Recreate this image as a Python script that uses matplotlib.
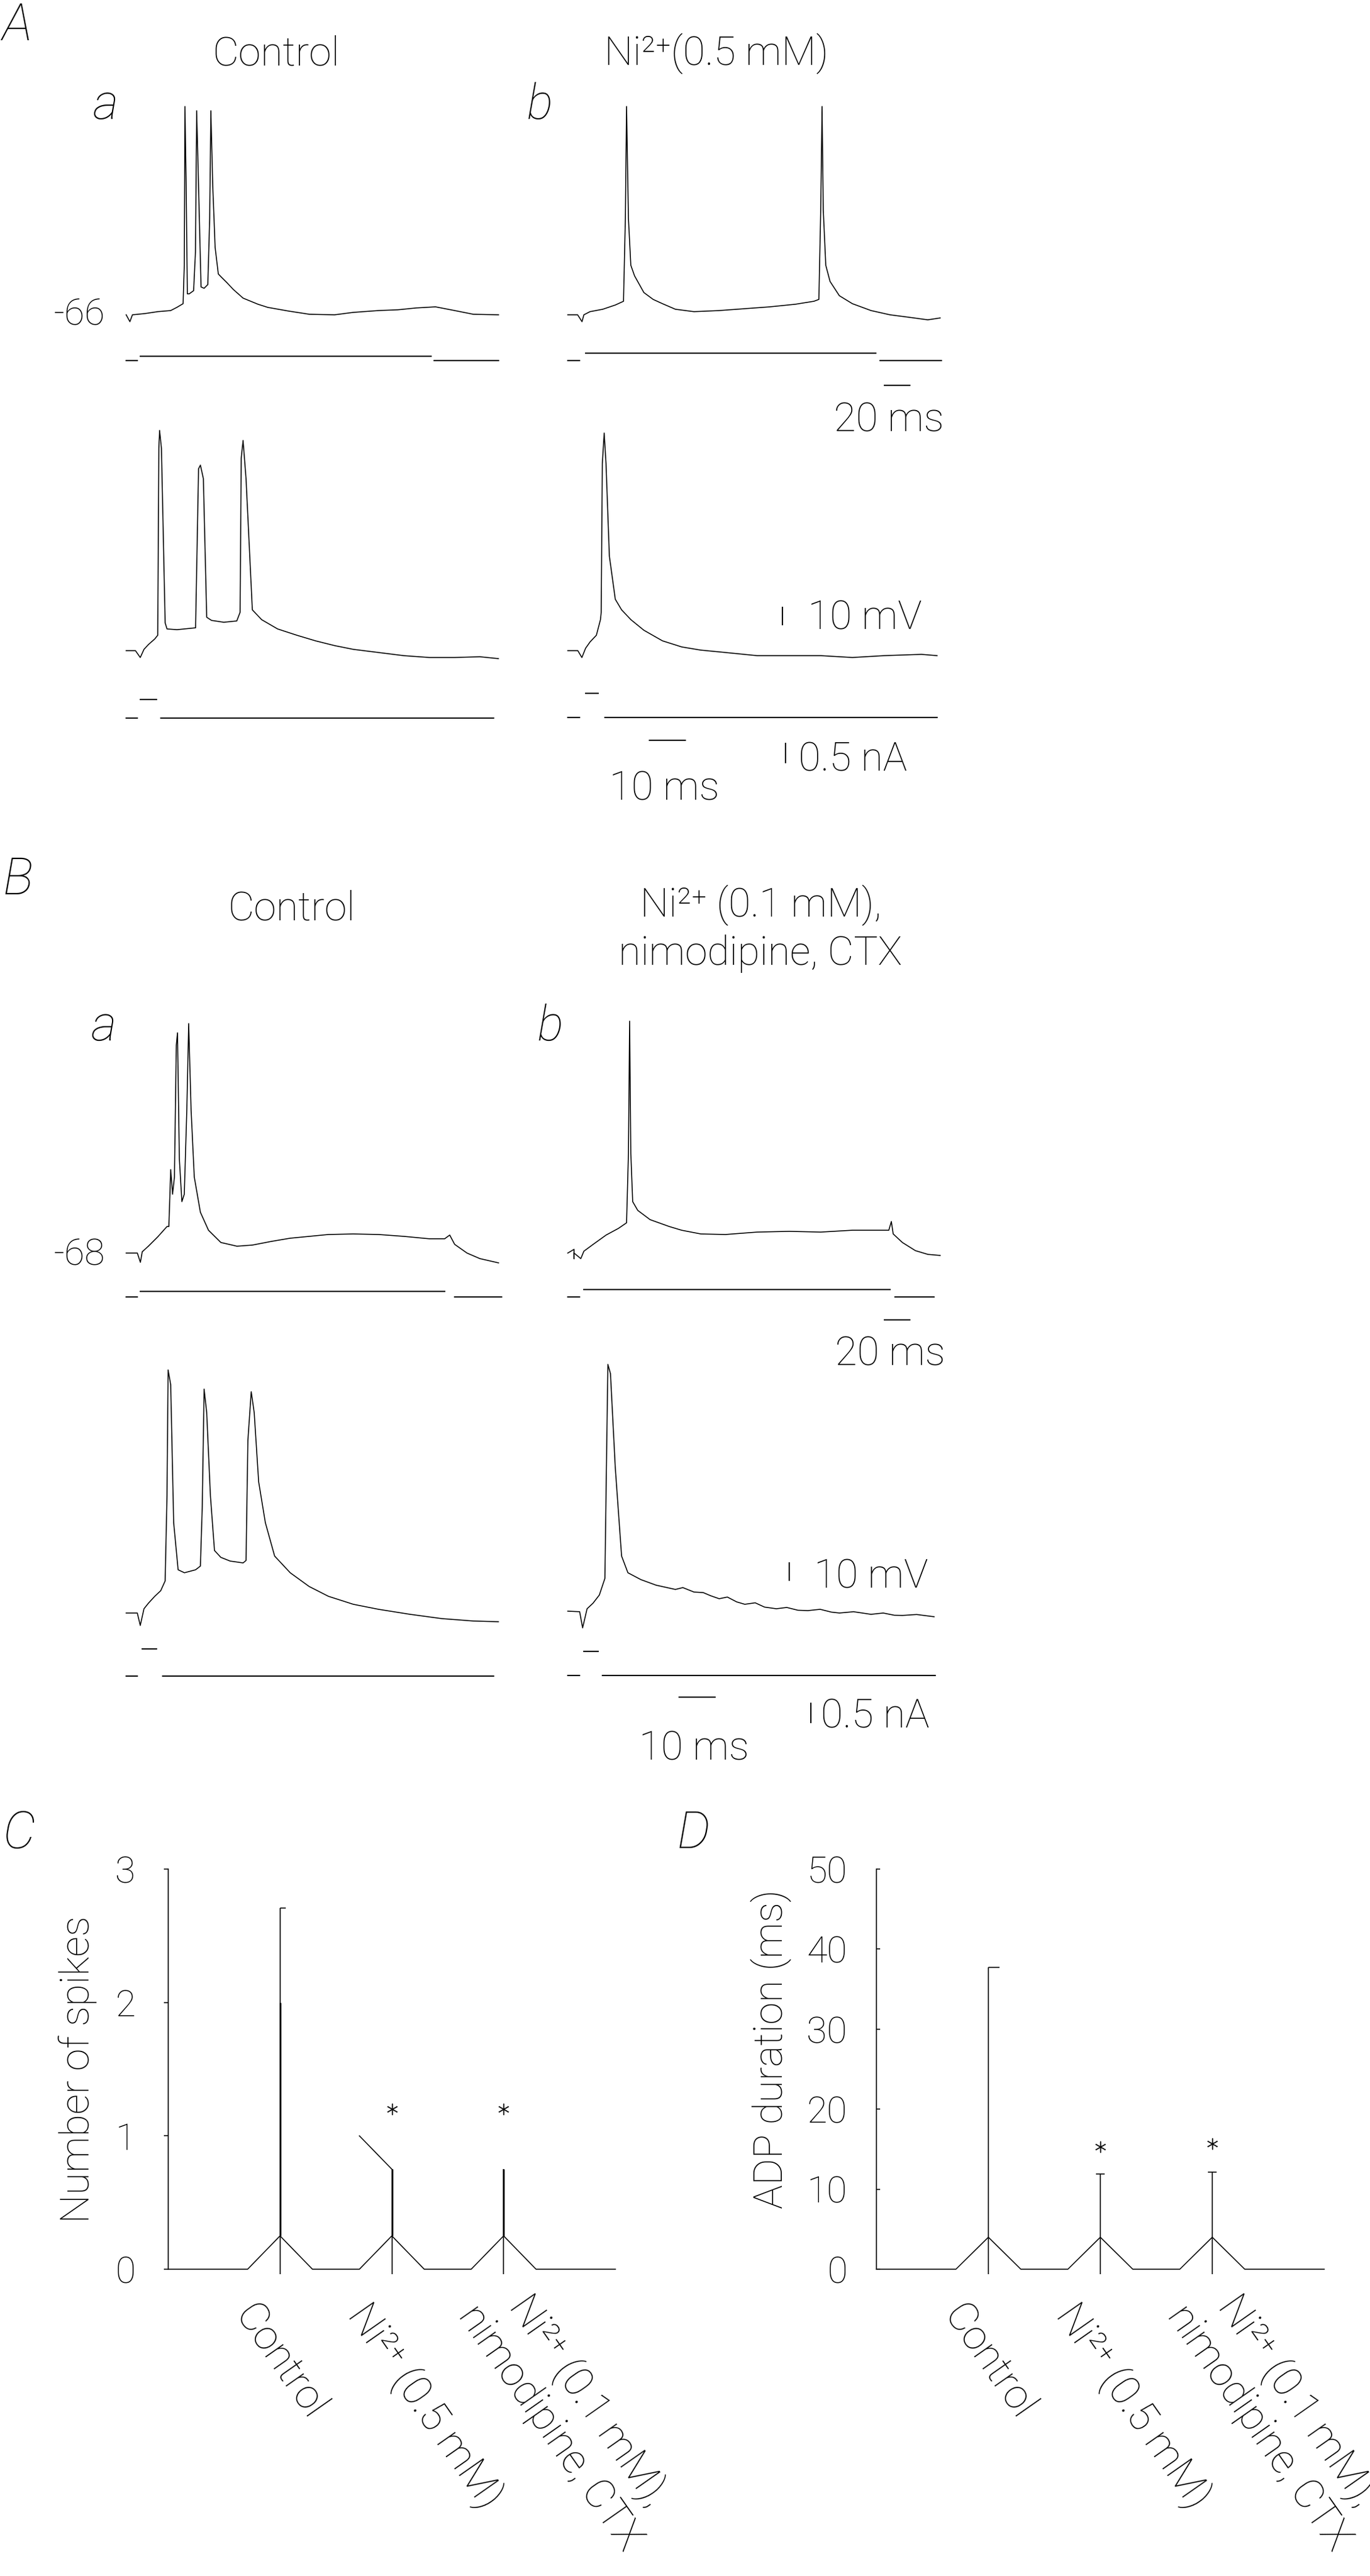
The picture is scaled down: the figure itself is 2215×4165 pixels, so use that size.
import numpy as np
import matplotlib
matplotlib.use("Agg")
import matplotlib.pyplot as plt
from matplotlib import transforms as mtransforms

nan = np.nan

# ---------------- A: Control / Ni2+ 0.5 mM, long step (time ms, potential mV) ----------------
aa_t = [0, 2.8, 4.7, 14.4, 23.7, 33.5, 38.1, 42.8, 43.7, 44.2, 45.1, 46.0, 47.4, 50.7, 52.1, 53.0,
        54.4, 56.3, 58.6, 61.4, 62.8, 63.7, 65.1, 66.9, 69.3, 71.6, 75.8, 80.5, 87.9, 99.1, 106.5,
        122.3, 137.7, 156.7, 170.7, 189.8, 204.2, 218.1, 232.6, 247.0, 261.0, 280.0]
aa_v = [-66, -69.7, -66, -65.3, -64.3, -63.7, -62.0, -60.0, -39.3, 46.3, 3.7, -54.7, -54.7, -53.0, -32.0, 44.0,
        3.7, -51.0, -51.7, -49.7, -14.0, 44.0, 3.7, -29.7, -44.0, -45.7, -48.7, -52.3, -57.0, -60.3, -62.0,
        -64.0, -65.7, -66.0, -64.7, -63.7, -63.3, -62.3, -61.7, -63.7, -65.7, -66.0]
ab_t = [0, 7.4, 10.7, 12.1, 16.7, 26.3, 35.8, 41.9, 43.3, 44.2, 45.6, 47.4, 50.2, 57.2, 64.2, 71.2,
        80.9, 94.9, 114.0, 133.0, 152.0, 171.2, 185.1, 188.8, 190.2, 191.2, 192.1, 194.0, 197.2, 204.2,
        214.0, 228.0, 242.3, 256.3, 270.7, 280.0]
ab_v = [-66, -66, -69.7, -66, -64.3, -63.0, -60.7, -58.7, -14.0, 46.3, -14.0, -39.3, -45.0, -54.0, -57.7, -60.0,
        -63.0, -64.3, -63.7, -62.7, -61.7, -60.3, -58.7, -57.7, -9.3, 46.3, -9.3, -39.3, -48.0, -55.7,
        -60.0, -63.7, -66.0, -67.3, -68.7, -67.7]
# short pulse
aa2_t = [0, 2.5, 3.8, 4.8, 6.0, 7.7, 8.5, 8.8, 9.0, 9.5, 10.5, 11.0, 13.7, 18.7, 19.5, 20.0, 20.8, 21.7,
         23.0, 26.3, 29.8, 30.7, 31.0, 31.5, 32.3, 34.0, 36.5, 40.8, 46.0, 51.0, 56.2, 61.2, 68.0, 74.8,
         81.7, 88.5, 95.3, 100.3]
aa2_v = [-66, -66, -69.7, -65.3, -62.7, -59.7, -57.7, 43.0, 52.7, 43.0, -51.0, -54.3, -54.7, -53.7, 32.0, 34.0,
         26.7, -48.0, -49.7, -50.7, -50.0, -45.3, 37.7, 47.3, 26.7, -44.0, -49.3, -54.3, -57.7, -60.7, -63.3,
         -65.3, -67.0, -68.7, -69.7, -69.7, -69.3, -70.3]
ab2_t = [0, 2.7, 3.8, 4.8, 6.0, 7.7, 8.8, 9.0, 9.3, 9.8, 10.3, 11.2, 12.8, 14.5, 17.0, 20.5, 25.5, 30.7,
         35.8, 42.5, 51.0, 59.7, 68.2, 76.7, 85.2, 95.3, 99.5]
ab2_v = [-66, -66, -69.7, -64.7, -61.3, -57.7, -49.3, -45.3, 34.7, 51.3, 34.7, -15.0, -38.3, -44.0, -49.3, -55.0,
         -60.7, -64.0, -65.7, -67.0, -68.7, -68.7, -68.7, -69.7, -68.7, -68.0, -68.7]

# ---------------- B: Control / Ni2+ 0.1 mM + nimodipine + CTX ----------------
ba_t = [0, 8.4, 10.7, 12.1, 16.7, 23.7, 30.7, 32.1, 33.5, 34.9, 36.3, 37.7, 38.6, 40.0, 41.9, 43.7,
        45.6, 47.0, 48.8, 51.2, 55.8, 61.9, 71.2, 83.3, 94.9, 109.3, 123.3, 137.7, 152.1, 170.7, 189.8,
        208.8, 227.9, 239.5, 243.3, 247.0, 256.3, 266.0, 280.0]
ba_v = [-68, -68, -73.0, -67.3, -64.3, -59.3, -53.7, -53.7, -23.0, -36.3, -27.0, 44.0, 50.7, -17.3, -40.3, -36.3,
        9.3, 55.7, 9.3, -27.0, -46.0, -55.7, -62.3, -64.3, -63.7, -61.7, -60.0, -59.0, -58.0, -57.7, -58.0,
        -59.0, -60.3, -60.3, -58.3, -63.3, -68.0, -71.0, -73.3]
bb_t = [0, 4.7, 4.7, 4.7, 9.8, 12.1, 19.1, 28.8, 38.1, 44.2, 45.6, 46.5, 47.4, 48.8, 52.6, 61.9,
        76.3, 85.6, 100.0, 118.6, 142.3, 166.5, 190.2, 214.0, 241.4, 243.3, 244.7, 251.6, 261.4, 270.7, 280.0]
bb_v = [-68, -66, -71, -68, -71, -67, -63.3, -58.3, -54.7, -51.7, -14.3, 57.0, -14.3, -40.3, -45.0, -50.0,
        -53.7, -55.7, -57.7, -58.0, -56.7, -56.3, -56.7, -55.7, -55.7, -51.0, -57.7, -62.3, -66.7, -68.7, -69.3]
ba2_t = [0, 3.0, 3.8, 4.8, 6.0, 7.7, 9.3, 10.5, 11.0, 11.3, 12.0, 12.8, 14.0, 15.7, 18.7, 20.0, 20.5, 21.0,
         21.7, 22.7, 23.8, 25.5, 28.0, 31.5, 32.3, 32.8, 33.7, 34.5, 35.7, 37.5, 40.0, 44.2, 49.3, 54.5,
         61.2, 68.0, 76.5, 85.0, 93.5, 100.3]
ba2_v = [-68, -68, -74.7, -65.7, -62.7, -59.0, -56.0, -50.7, -4.7, 63.0, 55.0, -19.3, -44.7, -46.3, -44.7, -42.7,
         -10.7, 52.7, 40.0, -4.7, -34.3, -38.0, -40.0, -41.0, -39.7, 25.0, 51.3, 40.0, 2.7, -19.3, -37.3, -46.3,
         -53.7, -59.0, -63.3, -66.0, -68.7, -71.0, -72.3, -72.7]
bb2_t = [0, 3.2, 4.0, 5.2, 6.8, 8.5, 10.0, 10.3, 10.8, 11.5, 12.8, 14.5, 16.2, 19.7, 23.8, 29.0, 31.0, 34.0,
         36.5, 38.5, 40.8, 43.0, 45.5, 47.7, 50.5, 53.0, 56.2, 59.0, 62.0, 64.7, 68.0, 71.0, 73.2, 77.0,
         81.7, 85.0, 88.0, 90.2, 94.0, 98.7]
bb2_v = [-68, -68.3, -77, -66.7, -63.7, -59.3, -50.3, -5.7, 65, 60, 9.3, -38.3, -47.3, -51, -54, -56.3,
         -55.3, -57.7, -58.0, -59.7, -61.3, -60.4, -63.0, -64.3, -63.5, -65.8, -66.7, -66.0, -67.5, -67.7,
         -67.0, -68.5, -69.0, -68.3, -69.7, -69.0, -70.2, -70.3, -69.8, -71.0]

# injected current (time ms, current nA); NaN separates drawn pieces
aa_it = [0, 8.4, nan, 10.7, 229.3, nan, 231.6, 280.0];  aa_iv = [0, 0, nan, 0.10, 0.10, nan, 0, 0]
ab_it = [0, 8.8, nan, 13.5, 231.6, nan, 234.9, 280.9];  ab_iv = [0, 0, nan, 0.18, 0.18, nan, 0, 0]
aa2_it = [0, 3.0, nan, 3.8, 8.2, nan, 9.3, 99.0];       aa2_iv = [0, 0, nan, 0.45, 0.45, nan, 0, 0]
ab2_it = [0, 3.2, nan, 4.8, 8.2, nan, 10.0, 99.5];      ab2_iv = [0, 0, nan, 0.59, 0.59, nan, 0, 0]
ba_it = [0, 8.4, nan, 10.7, 239.5, nan, 247.0, 282.3];  ba_iv = [0, 0, nan, 0.14, 0.14, nan, 0, 0]
bb_it = [0, 8.8, nan, 12.1, 242.3, nan, 246.0, 275.3];  bb_iv = [0, 0, nan, 0.18, 0.18, nan, 0, 0]
ba2_it = [0, 3.0, nan, 4.3, 8.2, nan, 9.8, 99.0];       ba2_iv = [0, 0, nan, 0.67, 0.67, nan, 0, 0]
bb2_it = [0, 3.2, nan, 4.3, 8.2, nan, 9.3, 99.0];       bb2_iv = [0, 0, nan, 0.59, 0.59, nan, 0, 0]

# ---------------- C / D summary ----------------
categories = ["Control", "Ni\u00b2\u207a (0.5 mM)", "Ni\u00b2\u207a (0.1 mM),\nnimodipine, CTX"]
cat_pos = [1, 2, 3]
spikes_apex = [0.25, 0.25, 0.25]
spikes_mean = [2.0, 0.75, 0.75]
spikes_err = [2.71, 0.75, 0.75]
spikes_slant = [nan, 1.0, nan]
spikes_star = [nan, 1.2, 1.2]
adp_apex = [4.0, 4.0, 4.0]
adp_err = [37.7, 11.9, 12.1]
adp_star = [nan, 15.3, 15.7]

# ---------------- figure ----------------
W, H, DPI = 2215, 4165, 100
plt.rcParams['font.family'] = ['Roboto', 'DejaVu Sans']
FW = 100
LW = 1.15
K = 'black'

fig = plt.figure(figsize=(W / DPI, H / DPI), dpi=DPI)
fig.patch.set_facecolor('white')


def px_axes(left, top, right, bottom):
    return fig.add_axes([left / W, 1 - bottom / H, (right - left) / W, (bottom - top) / H])


def trace_axes(x0, yrest, vrest, sx, tmax, sy=3.0, vmin=-130, vmax=70):
    ax = px_axes(x0, yrest - (vmax - vrest) * sy, x0 + tmax * sx, yrest + (vrest - vmin) * sy)
    ax.set_xlim(0, tmax)
    ax.set_ylim(vmin, vmax)
    ax.axis('off')
    return ax


def current_axes(x0, ybase, sx, tmax, si=66.0, imin=-1.5, imax=1.0):
    ax = px_axes(x0, ybase - imax * si, x0 + tmax * sx, ybase - imin * si)
    ax.set_xlim(0, tmax)
    ax.set_ylim(imin, imax)
    ax.axis('off')
    return ax


def ftext(X, Y, s, ha='left', va='baseline', size=47, style='normal'):
    fig.text(X / W, 1 - Y / H, s, ha=ha, va=va, fontsize=size, fontstyle=style,
             fontweight=FW, color=K)


panels = [
    # t, v, it, iv, x0, yrest, vrest, sx, tmax, ibase
    (aa_t, aa_v, aa_it, aa_iv, 204, 509, -66, 2.15, 285, 583),
    (ab_t, ab_v, ab_it, ab_iv, 918, 509, -66, 2.15, 285, 583),
    (aa2_t, aa2_v, aa2_it, aa2_iv, 204, 1052, -66, 6.0, 102, 1161),
    (ab2_t, ab2_v, ab2_it, ab2_iv, 918, 1052, -66, 6.0, 102, 1160),
    (ba_t, ba_v, ba_it, ba_iv, 204, 2026, -68, 2.15, 285, 2097),
    (bb_t, bb_v, bb_it, bb_iv, 918, 2026, -68, 2.15, 285, 2097),
    (ba2_t, ba2_v, ba2_it, ba2_iv, 204, 2608, -68, 6.0, 102, 2710),
    (bb2_t, bb2_v, bb2_it, bb2_iv, 918, 2605, -68, 6.0, 102, 2709),
]
vax, iax = [], []
for t, v, it, iv, x0, yr, vr, sx, tmax, ib in panels:
    a = trace_axes(x0, yr, vr, sx, tmax)
    a.plot(t, v, color=K, lw=LW, clip_on=False)
    b = current_axes(x0, ib, sx, tmax)
    b.plot(it, iv, color=K, lw=LW * 1.3, clip_on=False)
    vax.append(a)
    iax.append(b)

bar_kw = dict(color=K, lw=LW * 1.3, clip_on=False, solid_capstyle='butt')
# scale bars
vax[1].plot([237.7, 257.7], [-104, -104], **bar_kw)      # 20 ms (A)
vax[5].plot([237.7, 257.7], [-104, -104], **bar_kw)      # 20 ms (B)
vax[3].plot([57.8, 57.8], [-52.3, -42.3], **bar_kw)      # 10 mV (A)
vax[3].plot([21.8, 31.8], [-114.3, -114.3], **bar_kw)    # 10 ms (A)
iax[3].plot([58.7, 58.7], [-1.12, -0.62], **bar_kw)      # 0.5 nA (A)
vax[7].plot([59.7, 59.7], [-51.7, -41.7], **bar_kw)      # 10 mV (B)
vax[7].plot([29.8, 39.8], [-114.3, -114.3], **bar_kw)    # 10 ms (B)
iax[7].plot([65.5, 65.5], [-1.17, -0.67], **bar_kw)      # 0.5 nA (B)

# texts for A and B
ftext(4, 65, "A", size=60, style='italic')
ftext(446, 105, "Control", ha='center')
ftext(1158, 105, "Ni\u00b2\u207a(0.5 mM)", ha='center')
ftext(151, 192, "a", size=57, style='italic')
ftext(852, 192, "b", size=57, style='italic')
ftext(170, 525, "-66", ha='right', size=43)
ftext(1437, 697, "20 ms", ha='center')
ftext(1306, 1017, "10 mV")
ftext(1074, 1293, "10 ms", ha='center')
ftext(1291, 1247, "0.5 nA")

ftext(4, 1446, "B", size=60, style='italic')
ftext(471, 1487, "Control", ha='center')
ftext(1230, 1482, "Ni\u00b2\u207a (0.1 mM),", ha='center')
ftext(1229, 1560, "nimodipine, CTX", ha='center')
ftext(148, 1682, "a", size=57, style='italic')
ftext(869, 1682, "b", size=57, style='italic')
ftext(170, 2046, "-68", ha='right', size=43)
ftext(1439, 2208, "20 ms", ha='center')
ftext(1316, 2567, "10 mV")
ftext(1122, 2845, "10 ms", ha='center')
ftext(1327, 2793, "0.5 nA")

ftext(4, 2988, "C", size=60, style='italic')
ftext(1094, 2988, "D", size=60, style='italic')


def summary(ax, apex, mean, err, star, ymax, yticks, ylabel, ylab_xy, caps, tickdir, ticklen, pad,
            slant=None, thick=True):
    hw = 0.29
    xs, ys = [0], [0]
    for c, a in zip(cat_pos, apex):
        xs += [c - hw, c, c + hw]
        ys += [0, a, 0]
    xs.append(4)
    ys.append(0)
    ax.plot(xs, ys, color=K, lw=LW, clip_on=False)
    low = -0.012 * ymax
    ax.vlines(cat_pos, low, err, color=K, lw=LW, clip_on=False)
    if thick and mean is not None:
        ax.vlines(cat_pos, apex, mean, color=K, lw=LW * 1.8, clip_on=False)
    for c, e, cp in zip(cat_pos, err, caps):
        if cp is not None:
            ax.hlines(e, c + cp[0], c + cp[1], color=K, lw=LW, clip_on=False)
    if slant is not None:
        for c, s, m in zip(cat_pos, slant, mean):
            if not np.isnan(s):
                ax.plot([c - hw, c], [s, m], color=K, lw=LW, clip_on=False)
    ax.plot(cat_pos, star, ls='none', marker=(6, 2, 0), ms=13, mew=1.0, color=K, clip_on=False)
    ax.set_xlim(0, 4)
    ax.set_ylim(0, ymax)
    for s in ('top', 'right', 'bottom'):
        ax.spines[s].set_visible(False)
    ax.spines['left'].set_linewidth(LW)
    ax.set_yticks(yticks)
    ax.set_yticklabels([str(v) for v in yticks], fontsize=43, fontweight=FW)
    ax.tick_params(axis='y', direction=tickdir, length=ticklen, width=LW, pad=pad, colors=K)
    ax.set_xticks(cat_pos)
    ax.set_xticklabels(categories, rotation=-55, ha='left', va='bottom', rotation_mode='anchor',
                       multialignment='center', fontsize=48, fontweight=FW)
    ax.tick_params(axis='x', length=0, pad=0)
    off = mtransforms.ScaledTranslation(-0.86, -0.83, fig.dpi_scale_trans)
    for lab in ax.get_xticklabels():
        lab.set_transform(lab.get_transform() + off)
    ax.text(ylab_xy[0], ylab_xy[1], ylabel, transform=ax.transAxes, rotation=90, ha='center',
            va='center', fontsize=47, fontweight=FW, color=K)
    ax.patch.set_visible(False)


axC = px_axes(272, 3022, 995, 3669)
summary(axC, spikes_apex, spikes_mean, spikes_err, spikes_star, 3, [0, 1, 2, 3], "Number of spikes",
        (-0.202, 0.50), [(0, 0.05), None, None], 'out', 5, 33, slant=spikes_slant)
axD = px_axes(1417, 3022, 2141, 3669)
summary(axD, adp_apex, None, adp_err, adp_star, 50, [0, 10, 20, 30, 40, 50], "ADP duration (ms)",
        (-0.235, 0.55), [(0, 0.1), (-0.04, 0.04), (-0.04, 0.04)], 'in', 4, 34, thick=False)

fig.savefig("out.png", dpi=DPI, facecolor='white')
